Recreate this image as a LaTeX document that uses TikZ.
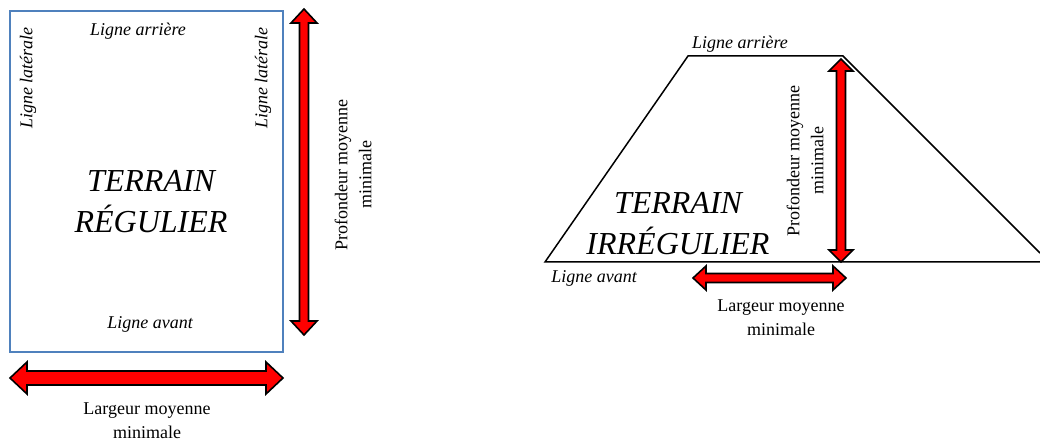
\documentclass[tikz,border=0pt]{standalone}
\usepackage{fontspec}
\setmainfont{Liberation Serif}
\newcommand\mydarrowH[6]{% x1,x2,y,shaft half,head half,head length
  \draw[bigarrow] (#1,#3) -- (#1+#6,#3-#5) -- (#1+#6,#3-#4) -- (#2-#6,#3-#4) -- (#2-#6,#3-#5) -- (#2,#3)
   -- (#2-#6,#3+#5) -- (#2-#6,#3+#4) -- (#1+#6,#3+#4) -- (#1+#6,#3+#5) -- cycle;}
\newcommand\mydarrowV[6]{% y1,y2,x,shaft half,head half,head length
  \draw[bigarrow] (#3,#1) -- (#3-#5,#1+#6) -- (#3-#4,#1+#6) -- (#3-#4,#2-#6) -- (#3-#5,#2-#6) -- (#3,#2)
   -- (#3+#5,#2-#6) -- (#3+#4,#2-#6) -- (#3+#4,#1+#6) -- (#3+#5,#1+#6) -- cycle;}
\definecolor{boxblue}{RGB}{79,129,189}
\tikzset{
  bigarrow/.style={draw=black, line width=1.6pt, fill=red, line join=miter},
  small/.style={font=\fontsize{18}{22}\selectfont\itshape, inner sep=0pt},
  smallup/.style={font=\fontsize{18}{24}\selectfont, inner sep=0pt, align=center},
  big/.style={font=\fontsize{32}{41}\selectfont\itshape, inner sep=0pt, align=center},
}
\begin{document}
\begin{tikzpicture}[x=1pt,y=-1pt]
\useasboundingbox (0,0) rectangle (1040,443);
% left regular field
\draw[boxblue, line width=1.5pt] (10,11) rectangle (283,352);
\node[small] (la) at (138,31) {Ligne arrière};
\node[small, rotate=90] (ll1) at (28,78) {Ligne latérale};
\node[small, rotate=90] (ll2) at (263,78) {Ligne latérale};
\node[big] (tr) at (151,202) {TERRAIN\\RÉGULIER};
\node[small] (lav) at (150,324) {Ligne avant};
\mydarrowV{9}{335}{304}{4.5}{13}{14}
\node[smallup, rotate=90] (pm1) at (353,175) {Profondeur moyenne\\minimale};
\mydarrowH{10}{283}{378}{7}{16}{17}
\node[smallup] (lm1) at (147,421) {Largeur moyenne\\minimale};
% right irregular field
\draw[black, line width=1.5pt, line join=miter] (1040,253) -- (843,56) -- (688,56) -- (545,262) -- (1040,262);
\node[small] (ra) at (740,44) {Ligne arrière};
\node[big] (ti) at (678,224) {TERRAIN\\IRRÉGULIER};
\node[small] (rav) at (594,278) {Ligne avant};
\mydarrowV{59}{262}{841}{4.5}{12}{12}
\node[smallup, rotate=90] (pm2) at (805,161) {Profondeur moyenne\\minimale};
\mydarrowH{693}{846}{278}{4.5}{12}{13}
\node[smallup] (lm2) at (781,318) {Largeur moyenne\\minimale};
\end{tikzpicture}
\end{document}
